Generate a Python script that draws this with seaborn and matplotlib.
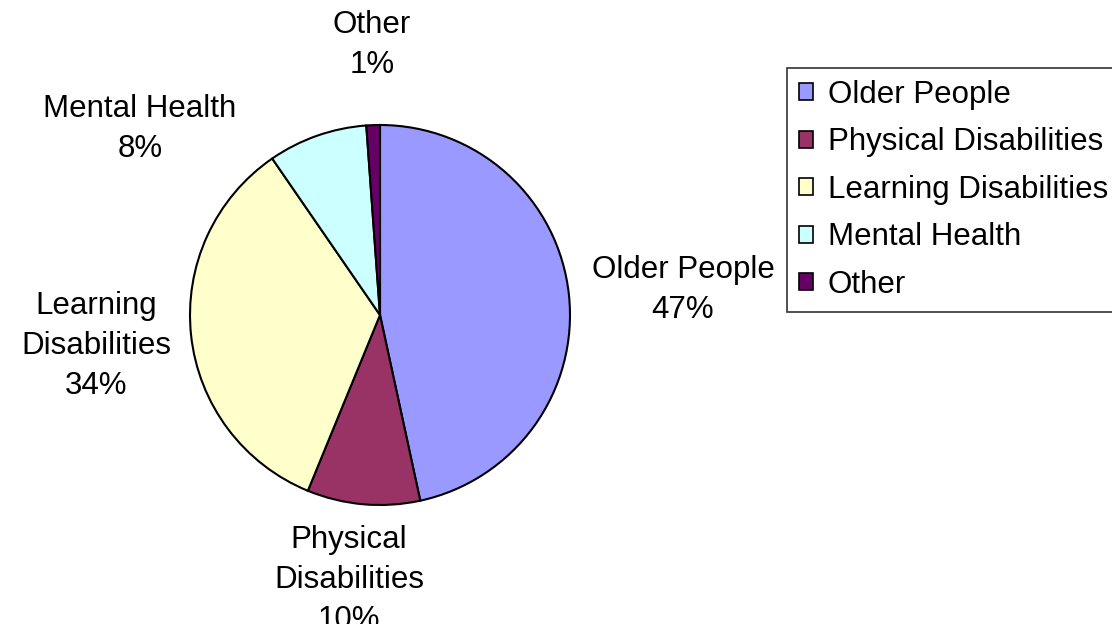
import numpy as np
import matplotlib
matplotlib.use("Agg")
import matplotlib.pyplot as plt
import seaborn as sns

categories = ["Older People", "Physical Disabilities", "Learning Disabilities", "Mental Health", "Other"]
values = [46.6, 9.6, 34.2, 8.45, 1.15]
pct_labels = ["47%", "10%", "34%", "8%", "1%"]
label_text = ["Older People", "Physical\nDisabilities", "Learning\nDisabilities", "Mental Health", "Other"]
colors = ["#9999FF", "#993366", "#FFFFCC", "#CCFFFF", "#660066"]

sns.set_theme(style="white")
plt.rcParams['font.family'] = ['Liberation Sans', 'DejaVu Sans']

W, H = 1112, 624
fig = plt.figure(figsize=(W / 100, H / 100), dpi=100)
ax = fig.add_axes([0, 0, 1, 1])
cx, cy, r = 380, 315, 190
FS = 22.5

palette = sns.color_palette(colors)
wedges, texts = ax.pie(values, labels=[f"{t}\n{p}" for t, p in zip(label_text, pct_labels)],
                       colors=palette, startangle=90, counterclock=False,
                       wedgeprops=dict(edgecolor="black", linewidth=1.5),
                       labeldistance=1.5, textprops=dict(fontsize=FS, color="black"))

# label placement (in units of pie radius)
label_pos = [(1.595, 0.13), (-0.163, -1.395), (-1.495, -0.163), (-1.263, 0.979), (-0.042, 1.421)]
for t, (lx, ly) in zip(texts, label_pos):
    t.set_position((lx, ly))
    t.set_ha("center")
    t.set_va("center")
    t.set_multialignment("center")
    t.set_linespacing(1.42)

ax.set_xlim(-cx / r, (W - cx) / r)
ax.set_ylim(-(H - cy) / r, cy / r)
ax.set_aspect("equal")
ax.axis("off")

leg = fig.legend(wedges, categories, loc="upper left",
                 bbox_to_anchor=(787 / W, 1 - 68 / H), borderaxespad=0,
                 fontsize=FS, frameon=True, fancybox=False,
                 handlelength=0.45, handleheight=0.45, handletextpad=0.48,
                 labelspacing=0.56, borderpad=0.38)
leg.get_frame().set_edgecolor("black")
leg.get_frame().set_linewidth(1.2)
for txt in leg.get_texts():
    txt.set_color("black")
for h in leg.legend_handles:
    h.set_edgecolor("black")
    h.set_linewidth(1.2)

fig.savefig("out.png", dpi=100)
